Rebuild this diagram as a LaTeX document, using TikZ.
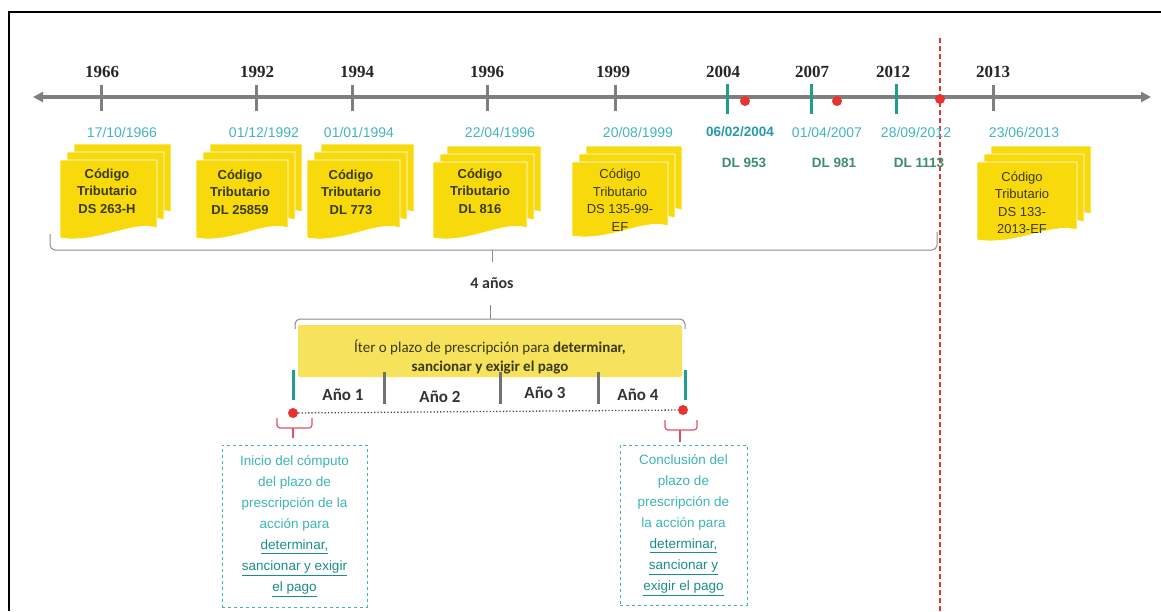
\documentclass[tikz,border=0pt]{standalone}
\usepackage{fontspec}
\setmainfont{Liberation Sans}
\newfontfamily\yearfont{Liberation Serif}
\newfontfamily\calfont{Carlito}
\usetikzlibrary{arrows.meta}

\definecolor{axisgray}{HTML}{7F7F7F}
\definecolor{datecol}{HTML}{45B3C2}
\definecolor{datedark}{HTML}{2598AE}
\definecolor{dlgreen}{HTML}{3D8C6D}
\definecolor{tealtick}{HTML}{1F9E8E}
\definecolor{dotred}{HTML}{E8332E}
\definecolor{docyellow}{HTML}{F8DA0C}
\definecolor{baryellow}{HTML}{F7E25C}
\definecolor{doctextcol}{HTML}{3A3A14}
\definecolor{notecol}{HTML}{3BB4B2}
\definecolor{notedark}{HTML}{1A8C8A}
\definecolor{bracered}{HTML}{E0506A}
\definecolor{bracegray}{HTML}{8C8C8C}

% one page of a stacked document symbol: left, top, width, height
\newcommand{\docpg}[4]{%
  \filldraw[docpage] ({#1},{#2}) -- ({#1+#3},{#2}) -- ({#1+#3},{#2+#4-10})
    .. controls ({#1+0.75*#3},{#2+#4-18}) and ({#1+0.4*#3},{#2+#4+6}) .. ({#1},{#2+#4}) -- cycle;}
\newcommand{\docstack}[4]{%
  \docpg{#1+14}{#2-16}{#3}{#4}%
  \docpg{#1+7}{#2-8}{#3}{#4}%
  \docpg{#1}{#2}{#3}{#4}}

\begin{document}
\begin{tikzpicture}[x=1pt,y=-1pt,
  frameline/.style={draw=black,line width=2.5pt},
  axis/.style={draw=axisgray,line width=3.5pt,{Triangle[length=10pt,width=10pt]}-{Triangle[length=10pt,width=10pt]}},
  graytick/.style={draw=axisgray,line width=3pt},
  tealmark/.style={draw=tealtick,line width=3pt},
  reddot/.style={circle,fill=dotred,inner sep=0pt,minimum size=10pt},
  yearlbl/.style={font=\yearfont\bfseries\fontsize{17}{20}\selectfont,text=black!85},
  datelbl/.style={font=\fontsize{14}{16}\selectfont,text=datecol},
  dllbl/.style={font=\bfseries\fontsize{13.5}{16}\selectfont,text=dlgreen},
  docpage/.style={fill=docyellow,draw=white,line width=0.8pt},
  doctext/.style={align=center,text=doctextcol,font=\bfseries\fontsize{13}{17.5}\selectfont},
  doctextlight/.style={align=center,text=doctextcol,font=\fontsize{13}{17.5}\selectfont},
  bracelines/.style={draw=bracegray,line width=1pt,rounded corners=5pt},
  redbrace/.style={draw=bracered,line width=1.2pt,rounded corners=3pt},
  cutline/.style={draw=dotred,line width=2pt,dash pattern=on 5pt off 3pt},
  yeartxt/.style={font=\calfont\bfseries\fontsize{17}{20}\selectfont,text=black!80},
  notebox/.style={draw=notecol,dashed,line width=0.8pt,align=center,text=notecol,
    font=\fontsize{13.5}{21}\selectfont,inner sep=2pt}]

\useasboundingbox (0,0) rectangle (1161,611);

% frame
\draw[frameline] (8,12) -- (1161,12);
\draw[frameline] (9,11) -- (9,611);

% red cut line
\coordinate (cutTop) at (940,38);
\coordinate (cutBot) at (940,611);
\draw[cutline] (cutTop) -- (cutBot);

% time axis
\coordinate (axL) at (33,97);
\coordinate (axR) at (1151,97);
\draw[axis] (axL) -- (axR);

% gray year ticks
\foreach \x in {101,256,352,487,615,993}
  \draw[graytick] (\x,85) -- (\x,111);
% teal ticks of the decrees
\foreach \x in {727,811,896}
  \draw[tealmark] (\x,84) -- (\x,114);

% red markers on the axis
\node[reddot] (r2004) at (745,101) {};
\node[reddot] (r2007) at (837,101) {};
\node[reddot] (r2012) at (940,99) {};

% years
\node[yearlbl] (y1966) at (102,72) {1966};
\node[yearlbl] (y1992) at (257,72) {1992};
\node[yearlbl] (y1994) at (357,72) {1994};
\node[yearlbl] (y1996) at (487,72) {1996};
\node[yearlbl] (y1999) at (613,72) {1999};
\node[yearlbl] (y2004) at (723,72) {2004};
\node[yearlbl] (y2007) at (812,72) {2007};
\node[yearlbl] (y2012) at (893,72) {2012};
\node[yearlbl] (y2013) at (993,72) {2013};

% dates
\node[datelbl] (d1966) at (122,132) {17/10/1966};
\node[datelbl] (d1992) at (264,132) {01/12/1992};
\node[datelbl] (d1994) at (359,132) {01/01/1994};
\node[datelbl] (d1996) at (500,132) {22/04/1996};
\node[datelbl] (d1999) at (638,132) {20/08/1999};
\node[datelbl,text=datedark,font=\bfseries\fontsize{13.5}{16}\selectfont] (d2004) at (740,132) {06/02/2004};
\node[datelbl] (d2007) at (827,132) {01/04/2007};
\node[datelbl] (d2012) at (916,132) {28/09/2012};
\node[datelbl] (d2013) at (1024,132) {23/06/2013};

% decree labels
\node[dllbl] (dl953) at (744,163) {DL 953};
\node[dllbl] (dl981) at (834,163) {DL 981};
\node[dllbl] (dl1113) at (919,163) {DL 1113};

% stacked documents
\docstack{60}{160}{97}{78}
\docstack{196}{160}{92}{78}
\docstack{307}{160}{93}{78}
\docstack{433}{162}{94}{76}
\docstack{572}{162}{96}{74}
\docstack{977}{162}{100}{78}

\node[doctext] (c1966) at (107,191) {Código\\Tributario\\DS 263-H};
\node[doctext] (c1992) at (240,192) {Código\\Tributario\\DL 25859};
\node[doctext] (c1994) at (351,192) {Código\\Tributario\\DL 773};
\node[doctext] (c1996) at (480,191) {Código\\Tributario\\DL 816};
\node[doctextlight] (c1999) at (620,200) {Código\\Tributario\\DS 135-99-\\EF};
\node[doctextlight] (c2013) at (1022,203) {Código\\Tributario\\DS 133-\\2013-EF};

% lower brace spanning the codes
\coordinate (bL) at (50,234);
\coordinate (bR) at (937,232);
\coordinate (bTip) at (492,262);
\draw[bracelines] (bL) -- (50,250) -- (937,250) -- (bR);
\draw[bracelines] (492,250) -- (bTip);

\node[yeartxt,font=\calfont\bfseries\fontsize{16}{19}\selectfont] (cuatro) at (492,283) {4 años};

% upper brace over the period
\coordinate (uL) at (295,329);
\coordinate (uR) at (685,329);
\coordinate (uTip) at (490,305);
\draw[bracelines] (uL) -- (295,319) -- (685,319) -- (uR);
\draw[bracelines] (490,319) -- (uTip);

% period bar
\fill[baryellow,rounded corners=2pt] (298,325) rectangle (682,377);
\node[align=center,text=doctextcol,font=\calfont\fontsize{15}{19}\selectfont] (iter) at (490,357)
  {Íter o plazo de prescripción para \textbf{determinar,}\\\textbf{sancionar y exigir el pago}};

% year dividers
\foreach \x in {384,500,598}
  \draw[draw=axisgray!90!black,line width=3pt] (\x,372) -- (\x,404);
\draw[tealmark] (293,370) -- (293,400);
\draw[tealmark] (685,370) -- (685,400);

\node[yeartxt] (a1) at (343,395) {Año 1};
\node[yeartxt] (a2) at (440,397) {Año 2};
\node[yeartxt] (a3) at (545,393) {Año 3};
\node[yeartxt] (a4) at (638,395) {Año 4};

% start and end of the count
\node[reddot] (pStart) at (293,413) {};
\node[reddot] (pEnd) at (683,410) {};
\draw[draw=gray!60!black,line width=1.3pt,dotted] (pStart) -- (pEnd);

% red braces
\draw[redbrace] (277,418) -- (277,428) -- (312,428) -- (312,418);
\draw[redbrace] (293,428) -- (293,438);
\draw[redbrace] (665,420) -- (665,430) -- (697,430) -- (697,420);
\draw[redbrace] (680,430) -- (680,442);

% explanatory boxes
\node[notebox,minimum width=145pt,minimum height=162pt] (inicio) at (294.5,526)
  {Inicio del cómputo\\del plazo de\\prescripción de la\\acción para\\
   \textcolor{notedark}{\underline{determinar,}}\\
   \textcolor{notedark}{\underline{sancionar y exigir}}\\
   \textcolor{notedark}{\underline{el pago}}};
\node[notebox,minimum width=127pt,minimum height=160pt] (fin) at (683.5,525)
  {Conclusión del\\plazo de\\prescripción de\\la acción para\\
   \textcolor{notedark}{\underline{determinar,}}\\
   \textcolor{notedark}{\underline{sancionar y}}\\
   \textcolor{notedark}{\underline{exigir el pago}}};

\end{tikzpicture}
\end{document}
